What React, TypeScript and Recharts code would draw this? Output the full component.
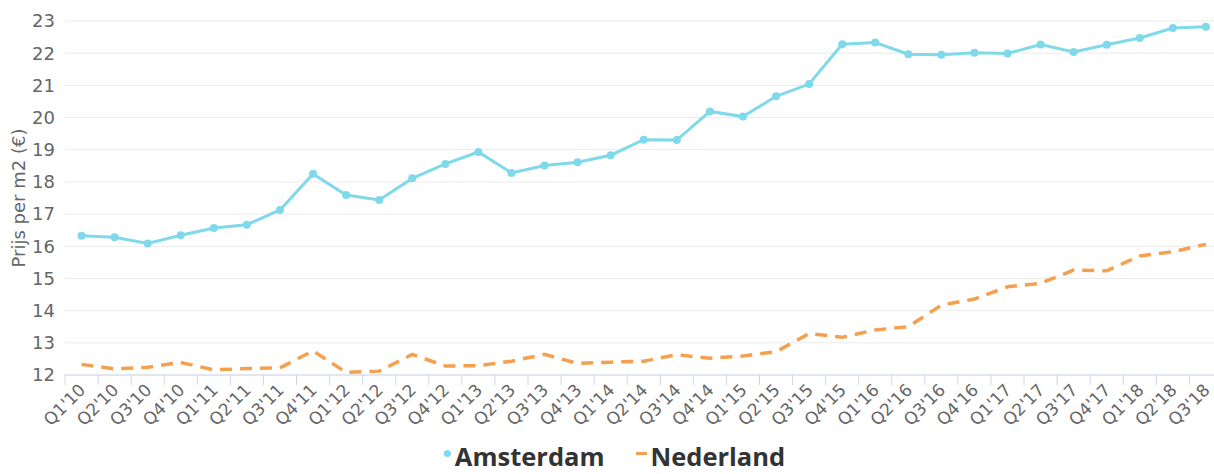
import { LineChart, Line, XAxis, YAxis, CartesianGrid, Legend } from "recharts";

const quarters = [
  "Q1'10", "Q2'10", "Q3'10", "Q4'10",
  "Q1'11", "Q2'11", "Q3'11", "Q4'11",
  "Q1'12", "Q2'12", "Q3'12", "Q4'12",
  "Q1'13", "Q2'13", "Q3'13", "Q4'13",
  "Q1'14", "Q2'14", "Q3'14", "Q4'14",
  "Q1'15", "Q2'15", "Q3'15", "Q4'15",
  "Q1'16", "Q2'16", "Q3'16", "Q4'16",
  "Q1'17", "Q2'17", "Q3'17", "Q4'17",
  "Q1'18", "Q2'18", "Q3'18",
];

const amsterdam = [
  16.33, 16.28, 16.09, 16.34,
  16.57, 16.67, 17.13, 18.25,
  17.59, 17.44, 18.11, 18.56,
  18.93, 18.28, 18.51, 18.61,
  18.83, 19.31, 19.3, 20.19,
  20.03, 20.66, 21.04, 22.28,
  22.33, 21.97, 21.95, 22.01,
  21.99, 22.27, 22.04, 22.26,
  22.47, 22.78, 22.82,
];

const nederland = [
  12.33, 12.19, 12.24, 12.39,
  12.16, 12.2, 12.22, 12.75,
  12.08, 12.12, 12.64, 12.28,
  12.29, 12.43, 12.64, 12.36,
  12.4, 12.43, 12.63, 12.52,
  12.59, 12.72, 13.29, 13.17,
  13.4, 13.5, 14.17, 14.36,
  14.74, 14.85, 15.26, 15.24,
  15.7, 15.83, 16.06,
];

const yTicks = [12, 13, 14, 15, 16, 17, 18, 19, 20, 21, 22, 23];

const data = quarters.map((quarter, i) => ({
  quarter,
  amsterdam: amsterdam[i],
  nederland: nederland[i],
}));

const CYAN = "#7fd9ea";
const ORANGE = "#f5a04f";
const FONT = "'DejaVu Sans', sans-serif";

// chart is a bit wider than the visible frame, the right edge gets cut off
const CHART_W = 1240;
const CHART_H = 474;
const Y_AXIS_W = 65;
const RIGHT_PAD = 17.5;
const BAND = (CHART_W - Y_AXIS_W - RIGHT_PAD) / quarters.length;

function QuarterTick({ x, y, payload }: any) {
  const tx = x + 5;
  const ty = y + 16;
  return (
    <g>
      <line
        x1={x - BAND / 2}
        x2={x - BAND / 2}
        y1={y}
        y2={y + 10}
        stroke="#ccd6eb"
        strokeWidth={1}
      />
      <text
        x={tx}
        y={ty}
        textAnchor="end"
        transform={`rotate(-45 ${tx} ${ty})`}
        fontSize={17}
        fontFamily={FONT}
        fill="#666666"
      >
        {payload.value}
      </text>
    </g>
  );
}

function LegendContent() {
  const item = {
    display: "flex",
    alignItems: "center",
    fontFamily: "'Open Sans', sans-serif",
    fontWeight: 700,
    fontSize: 25.5,
    color: "#333333",
  } as const;
  return (
    <div
      style={{
        width: CHART_W,
        height: 30,
        display: "flex",
        justifyContent: "center",
        paddingRight: 11,
        boxSizing: "border-box",
        lineHeight: "30px",
        position: "relative",
        top: -3,
      }}
    >
      <div style={item}>
        <span
          style={{
            width: 7,
            height: 7,
            borderRadius: "50%",
            background: CYAN,
            marginRight: 4,
            position: "relative",
            top: -3,
          }}
        />
        Amsterdam
      </div>
      <div style={{ ...item, marginLeft: 32 }}>
        <span
          style={{
            width: 11,
            height: 3,
            background: ORANGE,
            marginRight: 3,
            position: "relative",
            top: -3,
          }}
        />
        Nederland
      </div>
    </div>
  );
}

export default function App() {
  return (
    <div
      style={{
        position: "fixed",
        left: 0,
        top: 0,
        width: 1214,
        height: 474,
        overflow: "hidden",
        background: "#ffffff",
      }}
    >
      <LineChart
        width={CHART_W}
        height={CHART_H}
        data={data}
        margin={{ top: 21, right: RIGHT_PAD, bottom: 0, left: 0 }}
      >
        <CartesianGrid vertical={false} stroke="#ebebeb" />
        <XAxis
          dataKey="quarter"
          scale="band"
          interval={0}
          height={69}
          tickSize={0}
          tickMargin={0}
          tickLine={false}
          axisLine={{ stroke: "#ccd6eb" }}
          tick={<QuarterTick />}
        />
        <YAxis
          width={Y_AXIS_W}
          domain={[12, 23]}
          ticks={yTicks}
          interval={0}
          axisLine={false}
          tickLine={false}
          tickSize={0}
          tickMargin={10}
          tick={{ fontSize: 18, fill: "#666666", fontFamily: FONT }}
          label={{
            value: "Prijs per m2 (€)",
            angle: -90,
            position: "insideLeft",
            offset: 19,
            style: {
              textAnchor: "middle",
              fontSize: 18,
              fill: "#666666",
              fontFamily: FONT,
            },
          }}
        />
        <Legend verticalAlign="bottom" content={<LegendContent />} />
        <Line
          type="linear"
          dataKey="amsterdam"
          name="Amsterdam"
          stroke={CYAN}
          strokeWidth={3}
          dot={{ r: 4, fill: CYAN, stroke: CYAN, strokeWidth: 0 }}
          activeDot={false}
          isAnimationActive={false}
        />
        <Line
          type="linear"
          dataKey="nederland"
          name="Nederland"
          stroke={ORANGE}
          strokeWidth={3.5}
          strokeDasharray="12 8"
          dot={false}
          activeDot={false}
          isAnimationActive={false}
        />
      </LineChart>
    </div>
  );
}
